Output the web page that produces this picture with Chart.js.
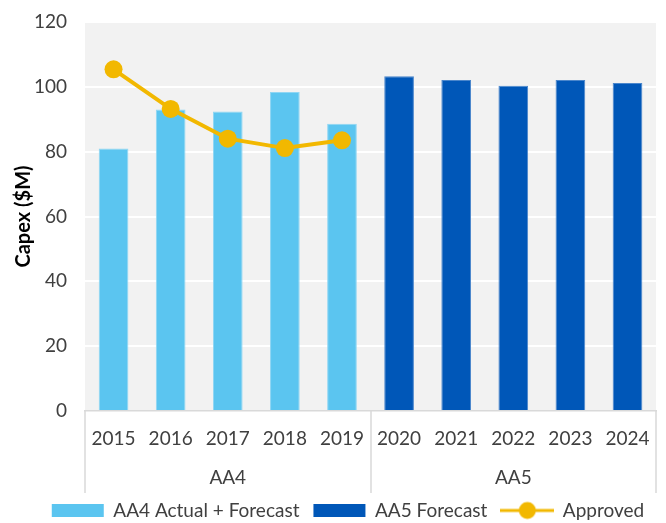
<!DOCTYPE html>
<html>
<head>
<meta charset="utf-8">
<script src="https://cdn.jsdelivr.net/npm/chart.js@4.4.1/dist/chart.umd.min.js"></script>
<style>
  html, body { margin: 0; padding: 0; background: #fff; }
  #wrap { width: 666px; height: 523px; }
</style>
</head>
<body>
<div id="wrap"><canvas id="capexChart" width="666" height="523"></canvas></div>
<script>
// chart data
const years = ["2015", "2016", "2017", "2018", "2019", "2020", "2021", "2022", "2023", "2024"];
const aa4Actual = [81, 93, 92.4, 98.4, 88.6, null, null, null, null, null];
const aa5Forecast = [null, null, null, null, null, 103.3, 102.1, 100.3, 102.1, 101.2];
const approved = [105.4, 93.2, 84, 81.1, 83.5, null, null, null, null, null];
const groupLabels = ["AA4", "AA5"];
const groupStarts = [0, 5];
const groupEnds = [4, 9];
const yTicks = [0, 20, 40, 60, 80, 100, 120];

const FONT = "Lato, 'Open Sans', sans-serif";

// legend icon for the approved line (line with dot)
function approvedIcon() {
  const c = document.createElement("canvas");
  c.width = 54;
  c.height = 20;
  const g = c.getContext("2d");
  g.strokeStyle = "#F2B800";
  g.lineWidth = 3;
  g.beginPath();
  g.moveTo(0, 10);
  g.lineTo(54, 10);
  g.stroke();
  g.fillStyle = "#F2B800";
  g.beginPath();
  g.arc(27, 10, 8.5, 0, Math.PI * 2);
  g.fill();
  return c;
}

const plotBg = {
  id: "plotBg",
  beforeDraw(chart) {
    const { ctx, chartArea } = chart;
    ctx.save();
    ctx.fillStyle = "#F2F2F2";
    ctx.fillRect(chartArea.left, chartArea.top, chartArea.right - chartArea.left, chartArea.bottom - chartArea.top);
    ctx.restore();
  },
};

// nudge the legend a bit right, like the original
const legendShift = {
  id: "legendShift",
  afterLayout(chart) {
    chart.legend.left += 15;
    chart.legend.right += 15;
  },
};

// second level of the category axis (AA4 / AA5)
const groupAxis = {
  id: "groupAxis",
  afterDraw(chart) {
    const { ctx, chartArea } = chart;
    const x = chart.scales.x;
    const half = (x.getPixelForValue(1) - x.getPixelForValue(0)) / 2;
    const top = chartArea.bottom;
    const bottom = top + 82;
    ctx.save();
    ctx.strokeStyle = "#D9D9D9";
    ctx.lineWidth = 1.5;
    const edges = [];
    groupStarts.forEach((s, i) => {
      const left = x.getPixelForValue(s) - half;
      const right = x.getPixelForValue(groupEnds[i]) + half;
      edges.push(left, right);
      ctx.fillStyle = "#404040";
      ctx.font = "19px " + FONT;
      ctx.textAlign = "center";
      ctx.textBaseline = "middle";
      ctx.fillText(groupLabels[i], (left + right) / 2, top + 67);
    });
    [...new Set(edges.map((e) => Math.round(e)))].forEach((e) => {
      ctx.beginPath();
      ctx.moveTo(e, top);
      ctx.lineTo(e, bottom);
      ctx.stroke();
    });
    ctx.restore();
  },
};

new Chart(document.getElementById("capexChart"), {
  data: {
    labels: years,
    datasets: [
      {
        type: "bar",
        label: "AA4 Actual + Forecast",
        data: aa4Actual,
        backgroundColor: "#5BC5F0",
        borderColor: "#8fd6f4",
        borderWidth: 1,
        order: 1,
      },
      {
        type: "bar",
        label: "AA5 Forecast",
        data: aa5Forecast,
        backgroundColor: "#0057B8",
        borderColor: "#4a86cc",
        borderWidth: 1,
        order: 1,
      },
      {
        type: "line",
        label: "Approved",
        data: approved,
        borderColor: "#F2B800",
        backgroundColor: "#F2B800",
        borderWidth: 4,
        pointRadius: 9,
        pointBorderWidth: 0,
        pointStyle: "circle",
        order: 0,
      },
    ],
  },
  options: {
    responsive: false,
    animation: false,
    datasets: {
      bar: { barPercentage: 0.52, categoryPercentage: 1, skipNull: true },
    },
    layout: { padding: { top: 22, right: 0, left: 0, bottom: -7 } },
    scales: {
      x: {
        grid: { display: false, drawTicks: false },
        border: { display: true, color: "#D9D9D9", width: 1.5 },
        ticks: { color: "#404040", font: { family: FONT, size: 19 }, padding: 16, maxRotation: 0 },
        afterFit(scale) {
          scale.height = 76;
        },
      },
      y: {
        min: 0,
        max: 120,
        afterBuildTicks(scale) {
          scale.ticks = yTicks.map((v) => ({ value: v }));
        },
        grid: { color: "#FFFFFF", lineWidth: 2, drawTicks: false },
        border: { display: false },
        ticks: { color: "#404040", font: { family: FONT, size: 19 }, padding: 18 },
        title: {
          display: true,
          text: "Capex ($M)",
          color: "#000",
          font: { family: FONT, size: 20, weight: "bold" },
          padding: { top: 12, bottom: 10 },
        },
        afterFit(scale) {
          scale.width = 85;
          scale.paddingTop = 0;
          scale.paddingBottom = 0;
        },
      },
    },
    plugins: {
      tooltip: { enabled: false },
      legend: {
        position: "bottom",
        labels: {
          color: "#404040",
          font: { family: FONT, size: 19 },
          usePointStyle: true,
          pointStyleWidth: 52,
          boxHeight: 13,
          padding: 14,
          sort: (a, b) => a.datasetIndex - b.datasetIndex,
          generateLabels(chart) {
            return chart.data.datasets.map((ds, i) => ({
              text: ds.label,
              fillStyle: ds.backgroundColor,
              strokeStyle: ds.backgroundColor,
              lineWidth: 0,
              pointStyle: ds.type === "line" ? approvedIcon() : "rect",
              datasetIndex: i,
              hidden: false,
              fontColor: "#404040",
            }));
          },
        },
      },
    },
  },
  plugins: [plotBg, groupAxis, legendShift],
});
</script>
</body>
</html>
